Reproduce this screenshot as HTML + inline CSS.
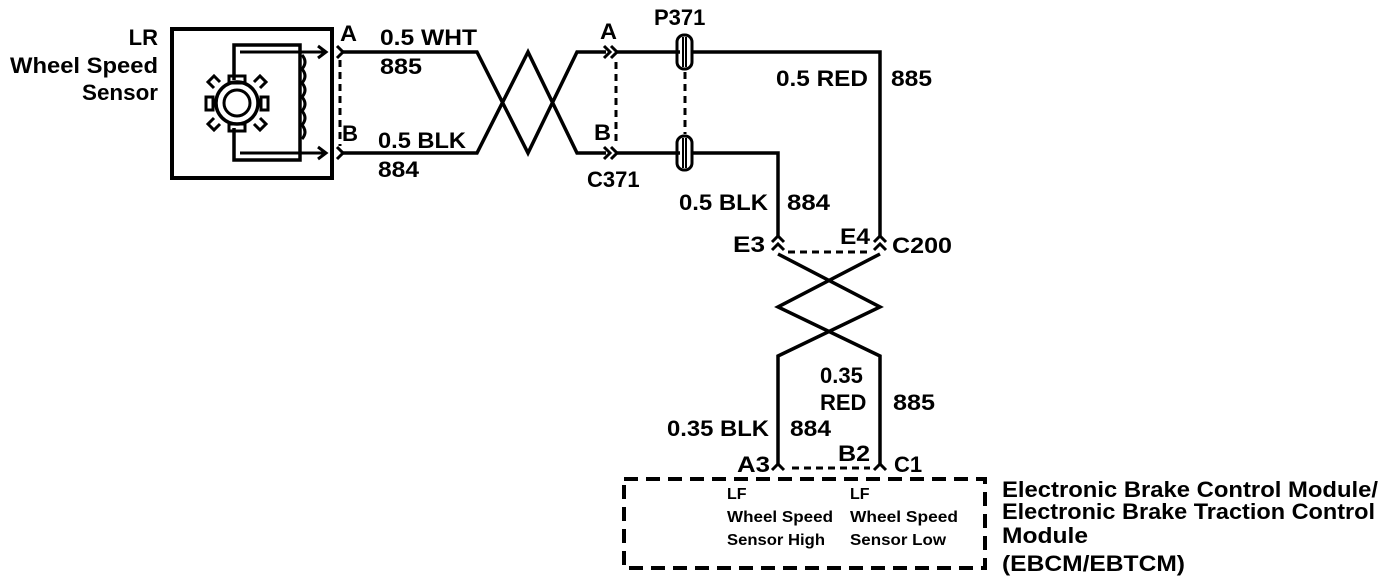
<!DOCTYPE html>
<html><head><style>
html,body{margin:0;padding:0;background:#fff;}
svg{display:block;}
text{font-family:"Liberation Sans",Arial,sans-serif;font-weight:bold;fill:#000;}
</style></head><body>
<svg width="1392" height="584" viewBox="0 0 1392 584" xmlns="http://www.w3.org/2000/svg">
<g fill="none" stroke="#000" stroke-width="3.5" stroke-linejoin="miter">
<rect x="172" y="29" width="160" height="149" stroke-width="4"/>
<path d="M234 128 V160 H300 V45 H234 V80"/>
<path d="M240 52 H300 M240 153 H300" stroke-width="3"/>
<path d="M300 52 H326 M300 153 H326" stroke-width="3"/>
<path d="M318 46 L326 52 L318 58 M318 147 L326 153 L318 159" stroke-width="3"/>
<path d="M302 55 q6 7 0 14 q6 7 0 14 q6 7 0 14 q6 7 0 14 q6 7 0 14 q6 7 0 14" stroke-width="3"/>
<circle cx="237" cy="103" r="21"/>
<circle cx="237" cy="103" r="13" stroke-width="3"/>
<g stroke-width="3">
<rect x="229" y="76" width="16" height="7"/>
<rect x="229" y="124" width="16" height="7"/>
<rect x="206" y="97" width="7" height="13"/>
<rect x="261" y="97" width="7" height="13"/>
<path d="M214 88 l-6 -6 l6 -6 l6 6 M260 88 l6 -6 l-6 -6 l-6 6 M214 118 l-6 6 l6 6 l6 -6 M260 118 l6 6 l-6 6 l-6 -6"/>
</g>
<path d="M337 46 L343 52 L337 58 M337 147 L343 153 L337 159" stroke-width="3"/>
<path d="M340 60 V146" stroke-dasharray="7 5" stroke-width="3"/>
<path d="M342 52 H477 L528 153 L577 52 H606"/>
<path d="M342 153 H477 L528 52 L577 153 H606"/>
<path d="M604 46 L610 52 L604 58 M611 46 L617 52 L611 58 M604 147 L610 153 L604 159 M611 147 L617 153 L611 159" stroke-width="3"/>
<path d="M617 52 H680 M617 153 H680"/>
<path d="M616 62 V145" stroke-dasharray="7 5" stroke-width="3"/>
<rect x="677" y="35" width="15" height="34" rx="7" stroke-width="3"/>
<path d="M683 37 V67 M686 37 V67" stroke-width="2"/>
<rect x="677" y="136" width="15" height="34" rx="7" stroke-width="3"/>
<path d="M683 138 V168 M686 138 V168" stroke-width="2"/>
<path d="M685 72 V134" stroke-dasharray="7 5" stroke-width="3"/>
<path d="M692 52 H880 V236"/>
<path d="M692 153 H778 V236"/>
<path d="M772 242 L778 236 L784 242 M772 250 L778 244 L784 250 M874 242 L880 236 L886 242 M874 250 L880 244 L886 250" stroke-width="3"/>
<path d="M788 252 H870" stroke-dasharray="7 5" stroke-width="3"/>
<path d="M778 254 L880 307 L778 356 V466"/>
<path d="M880 254 L778 307 L880 356 V466"/>
<path d="M772 470 L778 464 L784 470 M874 470 L880 464 L886 470" stroke-width="3"/>
<path d="M792 468 H870" stroke-dasharray="7 5" stroke-width="3"/>
<rect x="624" y="479" width="361" height="89" stroke-dasharray="14 8" stroke-width="4"/>
</g>
<g font-size="22">
<text x="158" y="45" text-anchor="end">LR</text>
<text x="10" y="73" textLength="148" lengthAdjust="spacingAndGlyphs">Wheel Speed</text>
<text x="82" y="100" textLength="76" lengthAdjust="spacingAndGlyphs">Sensor</text>
<text x="340" y="41" textLength="17" lengthAdjust="spacingAndGlyphs">A</text>
<text x="342" y="141" textLength="16" lengthAdjust="spacingAndGlyphs">B</text>
<text x="380" y="45" textLength="97" lengthAdjust="spacingAndGlyphs">0.5 WHT</text>
<text x="380" y="74" textLength="42" lengthAdjust="spacingAndGlyphs">885</text>
<text x="378" y="148" textLength="88" lengthAdjust="spacingAndGlyphs">0.5 BLK</text>
<text x="378" y="177" textLength="41" lengthAdjust="spacingAndGlyphs">884</text>
<text x="600" y="39" textLength="17" lengthAdjust="spacingAndGlyphs">A</text>
<text x="594" y="140" textLength="17" lengthAdjust="spacingAndGlyphs">B</text>
<text x="587" y="187">C371</text>
<text x="654" y="25">P371</text>
<text x="776" y="86" textLength="92" lengthAdjust="spacingAndGlyphs">0.5 RED</text>
<text x="891" y="86" textLength="41" lengthAdjust="spacingAndGlyphs">885</text>
<text x="679" y="210" textLength="89" lengthAdjust="spacingAndGlyphs">0.5 BLK</text>
<text x="787" y="210" textLength="43" lengthAdjust="spacingAndGlyphs">884</text>
<text x="733" y="252" textLength="32" lengthAdjust="spacingAndGlyphs">E3</text>
<text x="840" y="244" textLength="30" lengthAdjust="spacingAndGlyphs">E4</text>
<text x="892" y="253" textLength="60" lengthAdjust="spacingAndGlyphs">C200</text>
<text x="820" y="383">0.35</text>
<text x="820" y="410">RED</text>
<text x="893" y="410" textLength="42" lengthAdjust="spacingAndGlyphs">885</text>
<text x="667" y="436" textLength="102" lengthAdjust="spacingAndGlyphs">0.35 BLK</text>
<text x="790" y="436" textLength="41" lengthAdjust="spacingAndGlyphs">884</text>
<text x="838" y="461" textLength="32" lengthAdjust="spacingAndGlyphs">B2</text>
<text x="737" y="472" textLength="33" lengthAdjust="spacingAndGlyphs">A3</text>
<text x="894" y="472">C1</text>
<text x="1002" y="497" textLength="376" lengthAdjust="spacingAndGlyphs">Electronic Brake Control Module/</text>
<text x="1002" y="519" textLength="373" lengthAdjust="spacingAndGlyphs">Electronic Brake Traction Control</text>
<text x="1002" y="543" textLength="86" lengthAdjust="spacingAndGlyphs">Module</text>
<text x="1002" y="571" textLength="183" lengthAdjust="spacingAndGlyphs">(EBCM/EBTCM)</text>
</g>
<g font-size="16">
<text x="727" y="499">LF</text>
<text x="727" y="522" textLength="106" lengthAdjust="spacingAndGlyphs">Wheel Speed</text>
<text x="727" y="545" textLength="98" lengthAdjust="spacingAndGlyphs">Sensor High</text>
<text x="850" y="499">LF</text>
<text x="850" y="522" textLength="108" lengthAdjust="spacingAndGlyphs">Wheel Speed</text>
<text x="850" y="545" textLength="96" lengthAdjust="spacingAndGlyphs">Sensor Low</text>
</g>
</svg>
</body></html>
